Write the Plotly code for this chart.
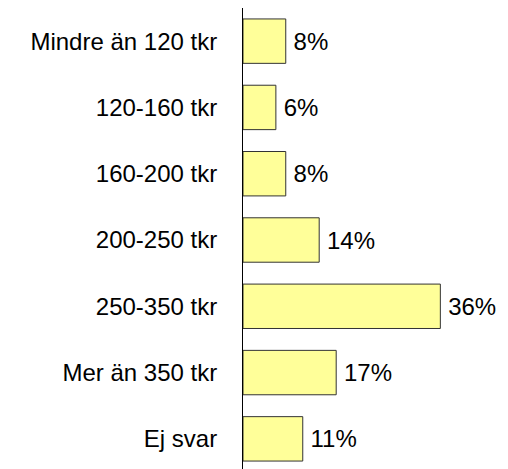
import plotly.graph_objects as go

# income brackets, top to bottom
categories = [
    "Mindre än 120 tkr",
    "120-160 tkr",
    "160-200 tkr",
    "200-250 tkr",
    "250-350 tkr",
    "Mer än 350 tkr",
    "Ej svar",
]
# share of answers (%)
shares = [7.8, 6.0, 7.8, 13.9, 36.0, 17.0, 10.9]

FONT = "Liberation Sans, Arial, sans-serif"

fig = go.Figure(go.Bar(
    x=shares,
    y=categories,
    orientation="h",
    width=0.67,
    marker=dict(color="#FFFF99", line=dict(color="#333333", width=1)),
    texttemplate="\u2009%{x:.0f}%",
    textposition="outside",
    constraintext="none",
    textfont=dict(size=24, color="#000000", family=FONT),
    cliponaxis=False,
))

# the page body adds an 8px offset, so margins are shifted to compensate
fig.update_layout(
    width=508,
    height=469,
    margin=dict(l=235, r=0, t=0, b=5),
    plot_bgcolor="#ffffff",
    paper_bgcolor="#ffffff",
    font=dict(family=FONT, size=21, color="#000000"),
    showlegend=False,
    xaxis=dict(
        range=[0, 49.8],
        visible=False,
    ),
    yaxis=dict(
        type="category",
        range=[6.5, -0.5],
        showline=True,
        linecolor="#000000",
        linewidth=1,
        showgrid=False,
        ticks="",
        ticklabelstandoff=20,
        tickfont=dict(size=24, color="#000000", family=FONT),
    ),
)

fig.write_html("out.html")
